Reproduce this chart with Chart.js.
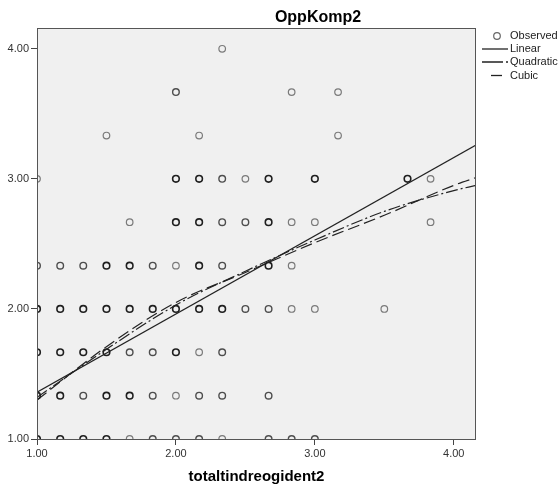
<!DOCTYPE html>
<html>
<head>
<meta charset="utf-8">
<title>OppKomp2</title>
<script src="https://cdn.jsdelivr.net/npm/chart.js@4.4.1/dist/chart.umd.min.js"></script>
<style>
  html, body { margin: 0; padding: 0; background: #fff; }
  #wrap { width: 560px; height: 489px; }
</style>
</head>
<body>
<div id="wrap"><canvas id="curveChart" width="560" height="489"></canvas></div>
<script>
// Observed cases (x, y) and how many cases sit on each spot
const obsX = [
  2.333,
  2.0, 2.833, 3.167,
  1.5, 2.167, 3.167,
  1.0, 2.0, 2.167, 2.333, 2.5, 2.667, 3.0, 3.667, 3.833,
  1.667, 2.0, 2.167, 2.333, 2.5, 2.667, 2.833, 3.0, 3.833,
  1.0, 1.167, 1.333, 1.5, 1.667, 1.833, 2.0, 2.167, 2.333, 2.667, 2.833,
  1.0, 1.167, 1.333, 1.5, 1.667, 1.833, 2.0, 2.167, 2.333, 2.5, 2.667, 2.833, 3.0, 3.5,
  1.0, 1.167, 1.333, 1.5, 1.667, 1.833, 2.0, 2.167, 2.333,
  1.0, 1.167, 1.333, 1.5, 1.667, 1.833, 2.0, 2.167, 2.333, 2.667,
  1.0, 1.167, 1.333, 1.5, 1.667, 1.833, 2.0, 2.167, 2.333, 2.667, 2.833, 3.0
];
const obsY = [
  4.0,
  3.667, 3.667, 3.667,
  3.333, 3.333, 3.333,
  3.0, 3.0, 3.0, 3.0, 3.0, 3.0, 3.0, 3.0, 3.0,
  2.667, 2.667, 2.667, 2.667, 2.667, 2.667, 2.667, 2.667, 2.667,
  2.333, 2.333, 2.333, 2.333, 2.333, 2.333, 2.333, 2.333, 2.333, 2.333, 2.333,
  2.0, 2.0, 2.0, 2.0, 2.0, 2.0, 2.0, 2.0, 2.0, 2.0, 2.0, 2.0, 2.0, 2.0,
  1.667, 1.667, 1.667, 1.667, 1.667, 1.667, 1.667, 1.667, 1.667,
  1.333, 1.333, 1.333, 1.333, 1.333, 1.333, 1.333, 1.333, 1.333, 1.333,
  1.0, 1.0, 1.0, 1.0, 1.0, 1.0, 1.0, 1.0, 1.0, 1.0, 1.0, 1.0
];
const obsN = [
  1,
  2, 1, 1,
  1, 1, 1,
  1, 3, 3, 2, 1, 3, 3, 3, 1,
  1, 3, 3, 2, 2, 3, 1, 1, 1,
  2, 2, 2, 3, 3, 2, 1, 3, 2, 3, 1,
  3, 3, 3, 3, 3, 3, 3, 3, 3, 2, 2, 1, 1, 1,
  3, 3, 3, 3, 2, 2, 3, 1, 2,
  3, 3, 2, 3, 3, 2, 1, 2, 2, 2,
  3, 3, 3, 3, 1, 2, 2, 2, 1, 2, 2, 2
];

// Fitted curves
const linearX = [1.0, 4.16];
const linearY = [1.36, 3.26];
const curveX = [1.0, 1.5, 2.0, 2.5, 3.0, 3.5, 4.0, 4.16];
const quadraticY = [1.32, 1.69, 2.03, 2.29, 2.53, 2.75, 2.91, 2.95];
const cubicY = [1.30, 1.71, 2.05, 2.28, 2.51, 2.72, 2.95, 3.01];

const axisTicks = [1, 2, 3, 4];

const FONT = "'Liberation Sans', Arial, sans-serif";
const shade = { 1: '#7a7a7a', 2: '#4d4d4d', 3: '#1f1f1f' };
const ring = { 1: 1.2, 2: 1.4, 3: 1.6 };

function pairs(xs, ys) {
  return xs.map((x, i) => ({ x: x, y: ys[i] }));
}

const plotFrame = {
  id: 'plotFrame',
  beforeDraw(chart) {
    const { ctx, chartArea: a } = chart;
    ctx.save();
    ctx.fillStyle = '#f0f0f0';
    ctx.fillRect(a.left, a.top, a.right - a.left, a.bottom - a.top);
    ctx.restore();
  },
  afterDatasetsDraw(chart) {
    const { ctx, chartArea: a } = chart;
    ctx.save();
    ctx.strokeStyle = '#555';
    ctx.lineWidth = 1;
    ctx.strokeRect(a.left + 0.5, a.top + 0.5, a.right - a.left - 1, a.bottom - a.top);
    ctx.restore();
  },
  afterDraw(chart) {
    const ctx = chart.ctx;
    ctx.save();
    // title
    ctx.fillStyle = '#000';
    ctx.font = 'bold 16px ' + FONT;
    ctx.textAlign = 'center';
    ctx.textBaseline = 'alphabetic';
    ctx.fillText('OppKomp2', 318, 22);

    // legend
    ctx.font = '11px ' + FONT;
    ctx.textAlign = 'left';
    ctx.textBaseline = 'middle';
    const tx = 510;
    ctx.strokeStyle = '#666';
    ctx.lineWidth = 1.2;
    ctx.beginPath();
    ctx.arc(497, 36, 3.3, 0, Math.PI * 2);
    ctx.stroke();
    ctx.fillStyle = '#222';
    ctx.fillText(chart.data.datasets[0].label, tx, 36);

    const samples = [
      { y: 49, from: 482, to: 508, dash: [] },
      { y: 62, from: 482, to: 508, dash: [21, 3, 2, 10] },
      { y: 75.5, from: 491, to: 502, dash: [] }
    ];
    samples.forEach((s, i) => {
      ctx.strokeStyle = '#222';
      ctx.lineWidth = 1.3;
      ctx.setLineDash(s.dash);
      ctx.beginPath();
      ctx.moveTo(s.from, s.y);
      ctx.lineTo(s.to, s.y);
      ctx.stroke();
      ctx.setLineDash([]);
      ctx.fillText(chart.data.datasets[i + 1].label, tx, s.y);
    });
    ctx.restore();
  }
};

const tickFont = { family: FONT, size: 11 };

new Chart(document.getElementById('curveChart'), {
  type: 'scatter',
  data: {
    datasets: [
      {
        label: 'Observed',
        data: pairs(obsX, obsY),
        pointStyle: 'circle',
        pointRadius: 3.3,
        pointBackgroundColor: 'rgba(0,0,0,0)',
        pointBorderColor: c => shade[obsN[c.dataIndex]],
        pointBorderWidth: c => ring[obsN[c.dataIndex]],
        clip: 0,
        order: 4
      },
      {
        label: 'Linear',
        data: pairs(linearX, linearY),
        showLine: true,
        borderColor: '#222',
        borderWidth: 1.2,
        pointRadius: 0,
        order: 1
      },
      {
        label: 'Quadratic',
        data: pairs(curveX, quadraticY),
        showLine: true,
        borderColor: '#222',
        borderWidth: 1.2,
        borderDash: [12, 3, 2, 3],
        cubicInterpolationMode: 'monotone',
        pointRadius: 0,
        order: 2
      },
      {
        label: 'Cubic',
        data: pairs(curveX, cubicY),
        showLine: true,
        borderColor: '#222',
        borderWidth: 1.2,
        borderDash: [12, 5],
        cubicInterpolationMode: 'monotone',
        pointRadius: 0,
        order: 3
      }
    ]
  },
  options: {
    responsive: false,
    animation: false,
    events: [],
    layout: { padding: { left: 0, right: 84, top: 28, bottom: 0 } },
    scales: {
      x: {
        type: 'linear',
        min: 1,
        max: 4.16,
        afterBuildTicks: s => { s.ticks = axisTicks.map(v => ({ value: v })); },
        afterFit: s => { s.height = 50; },
        ticks: {
          callback: v => Number(v).toFixed(2),
          font: tickFont,
          color: '#333',
          padding: 2,
          maxRotation: 0
        },
        grid: { drawOnChartArea: false, tickLength: 6, color: '#444' },
        border: { display: false },
        title: {
          display: true,
          text: 'totaltindreogident2',
          color: '#000',
          font: { family: FONT, size: 15, weight: 'bold' },
          padding: { top: 0, bottom: 3 }
        }
      },
      y: {
        type: 'linear',
        min: 1,
        max: 4.16,
        afterBuildTicks: s => { s.ticks = axisTicks.map(v => ({ value: v })); },
        afterFit: s => { s.width = 37; },
        ticks: {
          callback: v => Number(v).toFixed(2),
          font: tickFont,
          color: '#333',
          padding: 2
        },
        grid: { drawOnChartArea: false, tickLength: 6, color: '#444' },
        border: { display: false }
      }
    },
    plugins: {
      legend: { display: false },
      tooltip: { enabled: false },
      title: { display: false }
    }
  },
  plugins: [plotFrame]
});
</script>
</body>
</html>
